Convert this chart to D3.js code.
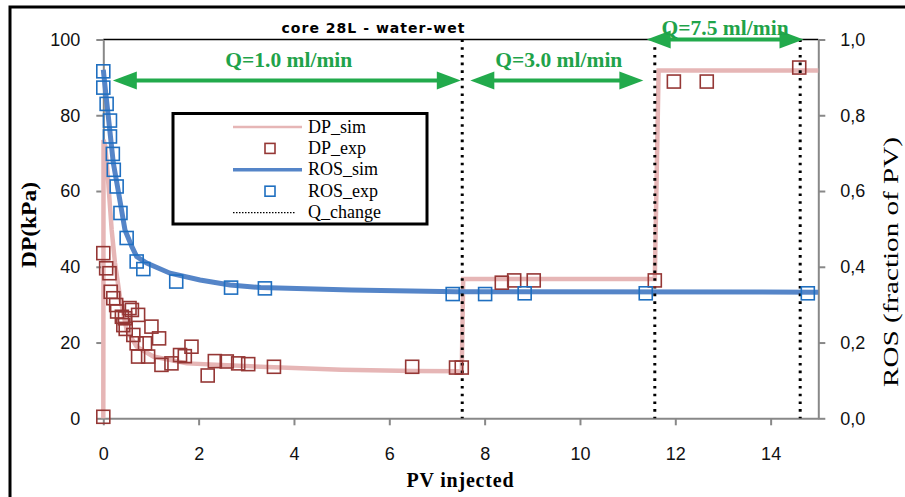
<!DOCTYPE html>
<html>
<head>
<meta charset="utf-8">
<script src="https://cdn.jsdelivr.net/npm/d3@7"></script>
<style>
  body { margin: 0; background: #fff; }
  svg { display: block; }
</style>
</head>
<body>
<div id="chart"></div>
<script>
// simulated pressure drop (kPa) vs PV injected
const dpSim = [
  [0, 0], [0.005, 73.5], [0.04, 72], [0.1, 63], [0.176, 49.7], [0.245, 41],
  [0.35, 32], [0.49, 23.3], [0.7, 18.9], [1.05, 16.3], [1.75, 14.5], [3.3, 13.6],
  [5, 12.8], [6.5, 12.5], [7.52, 12.4], [7.55, 36.8], [11.57, 36.8], [11.65, 91.8], [15, 91.8]
];
// experimental pressure drop
const dpExp = [
  [0, 43.6], [0.06, 39.6], [0.13, 38.3], [0.155, 33.4], [0.21, 31.7], [0.27, 29.9],
  [0.29, 28.2], [0.39, 26.8], [0.455, 26.4], [0.55, 29.1], [0.6, 28.6], [0.73, 27.3],
  [1.01, 24.2], [0.42, 24.6], [0.47, 23.6], [0.63, 22], [1.17, 21.1], [0.7, 19.8],
  [0.875, 19.8], [0.73, 16.3], [0.94, 16.3], [1.22, 14.1], [1.43, 14.5], [1.61, 16.7],
  [1.71, 16.4], [1.85, 18.9], [2.19, 11.3], [2.34, 15.1], [2.59, 15], [2.83, 14.5],
  [3.04, 14.3], [0, 0.4], [3.58, 13.6], [6.48, 13.6], [7.4, 13.4], [7.52, 13.4],
  [8.36, 35.8], [8.62, 36.4], [9.03, 36.4], [11.57, 36.4], [11.97, 88.9], [12.66, 88.9], [14.6, 92.6]
];
// simulated residual oil saturation (fraction of PV)
const rosSim = [
  [0, 0.92], [0.05, 0.86], [0.105, 0.797], [0.21, 0.674], [0.31, 0.603], [0.455, 0.497],
  [0.6, 0.453], [0.7, 0.427], [0.91, 0.41], [1.4, 0.383], [2.03, 0.365], [2.66, 0.352],
  [3.3, 0.345], [5.2, 0.339], [7.4, 0.334], [15, 0.333]
];
// experimental residual oil saturation
const rosExp = [
  [0, 0.916], [0, 0.873], [0.07, 0.83], [0.14, 0.786], [0.14, 0.744], [0.2, 0.698],
  [0.22, 0.656], [0.28, 0.612], [0.36, 0.542], [0.49, 0.476], [0.7, 0.414], [0.84, 0.394],
  [1.53, 0.361], [2.68, 0.345], [3.39, 0.343], [7.33, 0.328], [8.01, 0.328], [8.84, 0.33],
  [11.38, 0.33], [14.78, 0.33]
];
// flow rate changes (PV injected)
const qChange = [7.53, 11.57, 14.62];
// flow rate annotations: label, from, to (PV), level (kPa)
const qLabels = ["Q=1.0 ml/min", "Q=3.0 ml/min", "Q=7.5 ml/min"];
const qFrom = [0.2, 7.7, 11.4];
const qTo = [7.5, 11.33, 14.69];
const qLevel = [89.2, 89.2, 100];

const xTicks = [0, 2, 4, 6, 8, 10, 12, 14];
const yTicks = [0, 20, 40, 60, 80, 100];
const yRTicks = [0, 0.2, 0.4, 0.6, 0.8, 1.0];
const legendNames = ["DP_sim", "DP_exp", "ROS_sim", "ROS_exp", "Q_change"];

const W = 905, H = 497;
const pink = "#e6b6b6", red = "#953735", blue = "#5585c8", blueSq = "#1f6fc0", green = "#22aa4c";

const svg = d3.select("#chart").append("svg").attr("width", W).attr("height", H);

const x = d3.scaleLinear().domain([0, 15]).range([103.3, 818.3]);
const y = d3.scaleLinear().domain([0, 100]).range([418.3, 39.5]);
const yR = d3.scaleLinear().domain([0, 1]).range([418.3, 39.5]);

// outer frame
svg.append("rect").attr("x", 10).attr("y", 7).attr("width", W).attr("height", H)
  .attr("fill", "none").attr("stroke", "#000").attr("stroke-width", 3);

// plot top border
svg.append("line").attr("x1", x(0)).attr("x2", x(15)).attr("y1", y(100)).attr("y2", y(100))
  .attr("stroke", "#000").attr("stroke-width", 1.5);

// axes
const tickFont = "'Liberation Sans', Arial, sans-serif";
function styleAxis(g) {
  g.select(".domain").attr("stroke", "#888").attr("stroke-width", 2);
  g.selectAll(".tick line").attr("stroke", "#888").attr("stroke-width", 2);
  g.selectAll(".tick text").attr("fill", "#111").style("font-family", tickFont).style("font-size", "18px");
}
svg.append("g").attr("transform", `translate(0,${y(0)})`)
  .call(d3.axisBottom(x).tickValues(xTicks).tickSize(7).tickSizeOuter(0).tickPadding(22))
  .call(styleAxis);
svg.append("g").attr("transform", `translate(${x(0)},0)`)
  .call(d3.axisLeft(y).tickValues(yTicks).tickSize(7).tickSizeOuter(0).tickPadding(16))
  .call(styleAxis);
svg.append("g").attr("transform", `translate(${x(15)},0)`)
  .call(d3.axisRight(yR).tickValues(yRTicks).tickSize(7).tickSizeOuter(0).tickPadding(15)
    .tickFormat(d => d.toFixed(1).replace(".", ",")))
  .call(styleAxis);

// axis titles
const serif = "'Liberation Serif', 'Times New Roman', serif";
svg.append("text").attr("x", 460).attr("y", 487).attr("text-anchor", "middle")
  .attr("textLength", 107).attr("lengthAdjust", "spacing")
  .style("font-family", serif).style("font-weight", "bold").style("font-size", "20px")
  .text("PV injected");
svg.append("text").attr("transform", "translate(36,225) rotate(-90)").attr("text-anchor", "middle")
  .attr("textLength", 86).attr("lengthAdjust", "spacingAndGlyphs")
  .style("font-family", serif).style("font-weight", "bold").style("font-size", "20px")
  .text("DP(kPa)");
svg.append("text").attr("transform", "translate(898,262) rotate(-90)").attr("text-anchor", "middle")
  .attr("textLength", 250).attr("lengthAdjust", "spacingAndGlyphs")
  .style("font-family", serif).style("font-size", "22px")
  .text("ROS (fraction of PV)");

// title
svg.append("text").attr("x", 373).attr("y", 33).attr("text-anchor", "middle")
  .attr("textLength", 183).attr("lengthAdjust", "spacing")
  .style("font-family", "'DejaVu Sans', Verdana, sans-serif").style("font-weight", "bold").style("font-size", "14px")
  .text("core 28L - water-wet");

// simulated curves
const line = d3.line().x(d => x(d[0])).y(d => y(d[1]));
const lineR = d3.line().x(d => x(d[0])).y(d => yR(d[1]));
svg.append("path").datum(dpSim).attr("d", line)
  .attr("fill", "none").attr("stroke", pink).attr("stroke-width", 4.5);
svg.append("path").datum(rosSim).attr("d", lineR)
  .attr("fill", "none").attr("stroke", blue).attr("stroke-width", 5);

// flow change lines
svg.selectAll(".qline").data(qChange).enter().append("line")
  .attr("x1", d => x(d)).attr("x2", d => x(d)).attr("y1", y(100)).attr("y2", y(0))
  .attr("stroke", "#000").attr("stroke-width", 3).attr("stroke-dasharray", "2.6,5.1");

// experimental points
const sq = 13;
svg.selectAll(".dpexp").data(dpExp).enter().append("rect")
  .attr("x", d => x(d[0]) - sq / 2).attr("y", d => y(d[1]) - sq / 2)
  .attr("width", sq).attr("height", sq)
  .attr("fill", "none").attr("stroke", red).attr("stroke-width", 1.6);
svg.selectAll(".rosexp").data(rosExp).enter().append("rect")
  .attr("x", d => x(d[0]) - sq / 2).attr("y", d => yR(d[1]) - sq / 2)
  .attr("width", sq).attr("height", sq)
  .attr("fill", "none").attr("stroke", blueSq).attr("stroke-width", 1.6);

// flow rate arrows
const head = 24, half = 9;
qLabels.forEach((lab, i) => {
  const x1 = x(qFrom[i]), x2 = x(qTo[i]), yy = y(qLevel[i]);
  svg.append("line").attr("x1", x1 + head - 2).attr("x2", x2 - head + 2).attr("y1", yy).attr("y2", yy)
    .attr("stroke", green).attr("stroke-width", 4);
  svg.append("path").attr("d", `M${x1},${yy}L${x1 + head},${yy - half}L${x1 + head},${yy + half}Z`).attr("fill", green);
  svg.append("path").attr("d", `M${x2},${yy}L${x2 - head},${yy - half}L${x2 - head},${yy + half}Z`).attr("fill", green);
  const ty = i === 2 ? yy - 5 : yy - 13.5;
  svg.append("text").attr("x", (x1 + x2) / 2 + (i === 2 ? 0 : 2)).attr("y", ty).attr("text-anchor", "middle")
    .attr("textLength", 127).attr("lengthAdjust", "spacingAndGlyphs")
    .attr("fill", "#1fa34a").style("font-family", serif).style("font-weight", "bold").style("font-size", "20px")
    .text(lab);
});

// legend
const lg = svg.append("g");
lg.append("rect").attr("x", 173).attr("y", 113.5).attr("width", 254).attr("height", 110.5)
  .attr("fill", "#fff").attr("stroke", "#000").attr("stroke-width", 3);
legendNames.forEach((name, i) => {
  const cy = 127 + i * 21.4;
  if (i === 0 || i === 2) {
    lg.append("line").attr("x1", 233).attr("x2", 302).attr("y1", cy).attr("y2", cy)
      .attr("stroke", i === 0 ? pink : blue).attr("stroke-width", i === 0 ? 2.5 : 3.5);
  } else if (i === 1 || i === 3) {
    lg.append("rect").attr("x", 265).attr("y", cy - 5).attr("width", 10).attr("height", 10)
      .attr("fill", "none").attr("stroke", i === 1 ? red : blueSq).attr("stroke-width", 1.6);
  } else {
    lg.append("line").attr("x1", 233).attr("x2", 296).attr("y1", cy).attr("y2", cy)
      .attr("stroke", "#000").attr("stroke-width", 1.2).attr("stroke-dasharray", "1.5,1.5");
  }
  lg.append("text").attr("x", 308).attr("y", cy + 5.5)
    .style("font-family", serif).style("font-size", "18px").text(name);
});
</script>
</body>
</html>
